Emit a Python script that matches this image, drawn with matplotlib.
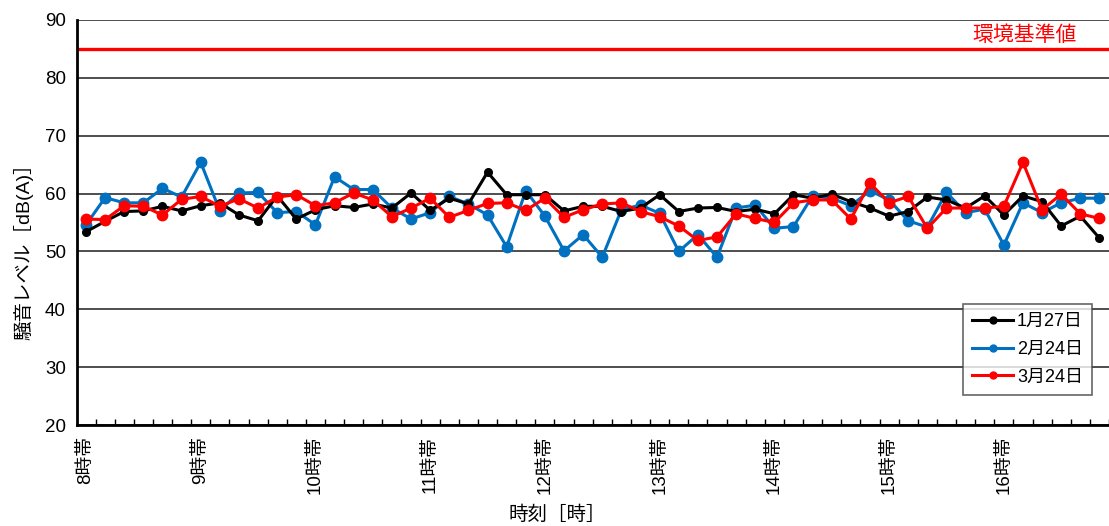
import numpy as np
import matplotlib
matplotlib.use("Agg")
import matplotlib.pyplot as plt

plt.rcParams['font.family'] = ['Liberation Sans', 'Noto Sans CJK JP', 'DejaVu Sans']

##========== Data ==========##
hour_labels = ['8時帯', '9時帯', '10時帯', '11時帯', '12時帯', '13時帯', '14時帯', '15時帯', '16時帯']
series_names = ['1月27日', '2月24日', '3月24日']

jan27 = [53.4, 55.2, 56.9, 57.0, 57.8, 57.0, 57.9, 58.4, 56.3, 55.3, 59.6, 55.6, 57.2, 57.9,
         57.6, 58.2, 57.5, 60.1, 57.1, 59.2, 58.2, 63.7, 59.8, 59.8, 59.8, 57.0, 57.8, 57.8,
         56.9, 57.5, 59.8, 56.9, 57.5, 57.6, 56.9, 57.3, 56.5, 59.8, 59.2, 59.9, 58.6, 57.5,
         56.1, 56.9, 59.4, 58.9, 57.5, 59.6, 56.3, 59.6, 58.6, 54.4, 56.1, 52.3]
feb24 = [54.6, 59.3, 58.4, 58.4, 60.9, 59.4, 65.4, 57.0, 60.1, 60.2, 56.7, 56.9, 54.6, 62.9,
         60.7, 60.7, 57.5, 55.6, 56.7, 59.5, 58.2, 56.3, 50.8, 60.5, 56.1, 50.1, 52.9, 49.0,
         57.2, 58.0, 56.6, 50.0, 52.9, 49.0, 57.5, 58.0, 54.0, 54.3, 59.6, 59.2, 57.9, 60.5,
         58.9, 55.3, 54.2, 60.2, 56.7, 57.3, 51.1, 58.4, 56.7, 58.4, 59.2, 59.2]
mar24 = [55.6, 55.5, 57.9, 57.8, 56.3, 59.0, 59.5, 57.8, 59.1, 57.5, 59.4, 59.8, 57.9, 58.4,
         60.1, 58.9, 56.0, 57.5, 59.2, 55.9, 57.1, 58.3, 58.4, 57.1, 59.2, 55.9, 57.2, 58.2,
         58.4, 56.9, 56.0, 54.4, 51.9, 52.5, 56.5, 55.7, 55.0, 58.4, 58.9, 58.9, 55.6, 61.8,
         58.4, 59.5, 54.0, 57.5, 57.5, 57.5, 57.8, 65.4, 57.2, 59.9, 56.5, 55.7]
standard = 85

##========== Plot ==========##
fig = plt.figure(figsize=(11.09, 5.26), dpi=100)
ax = fig.add_axes([77/1109, 1-425/526, 1-77/1109, 405/526])

x = np.arange(len(jan27))
ax.plot(x, jan27, color='black', lw=2.2, marker='o', ms=5.5, label=series_names[0], zorder=4)
ax.plot(x, feb24, color='#0070C0', lw=2.2, marker='o', ms=7.5, label=series_names[1], zorder=3)
ax.plot(x, mar24, color='#FF0000', lw=2.2, marker='o', ms=7.5, label=series_names[2], zorder=5)

# 環境基準値
ax.axhline(standard, color='#FF0000', lw=2.4, zorder=2)
ax.text((1077-77)/1032, (standard + 2.4 - 20) / 70, '環境基準値', transform=ax.transAxes,
        color='#FF0000', fontsize=15, ha='right', va='center')

ax.set_ylim(20, 90)
ax.set_xlim(-0.47, 53.05)
ax.set_yticks(range(20, 91, 10))
ax.yaxis.grid(True, color='#404040', lw=1.3)
ax.set_axisbelow(True)
ax.tick_params(axis='y', length=0, pad=8, labelsize=13.5)

ax.set_xticks(np.arange(len(hour_labels)) * 6)
ax.set_xticklabels(hour_labels, rotation=90, fontsize=13.5)
ax.set_xticks(np.arange(len(jan27)) + 0.5, minor=True)
ax.tick_params(axis='x', which='major', length=0, pad=8)
ax.tick_params(axis='x', which='minor', direction='in', length=4, width=1, color='black')

for s in ['top', 'right']:
    ax.spines[s].set_visible(False)
for s in ['left', 'bottom']:
    ax.spines[s].set_linewidth(2)
    ax.spines[s].set_color('black')

ax.set_ylabel('騒音レベル［dB(A)］', fontsize=14)
ax.yaxis.set_label_coords(-0.042, 1-(247-20)/405)
ax.set_xlabel('時刻［時］', fontsize=14)
ax.xaxis.set_label_coords((557-77)/1032, -0.2)

leg = ax.legend(loc='upper right', bbox_to_anchor=(1101/1109, 1-295/526),
                bbox_transform=fig.transFigure, fontsize=13, frameon=True, fancybox=False,
                handlelength=2.3, borderpad=0.5, labelspacing=0.6, handletextpad=0.2)
leg.get_frame().set_edgecolor('#404040')
leg.get_frame().set_linewidth(1.2)
for h in leg.get_lines():
    h.set_markersize(5)

fig.savefig('out.png', dpi=100)
